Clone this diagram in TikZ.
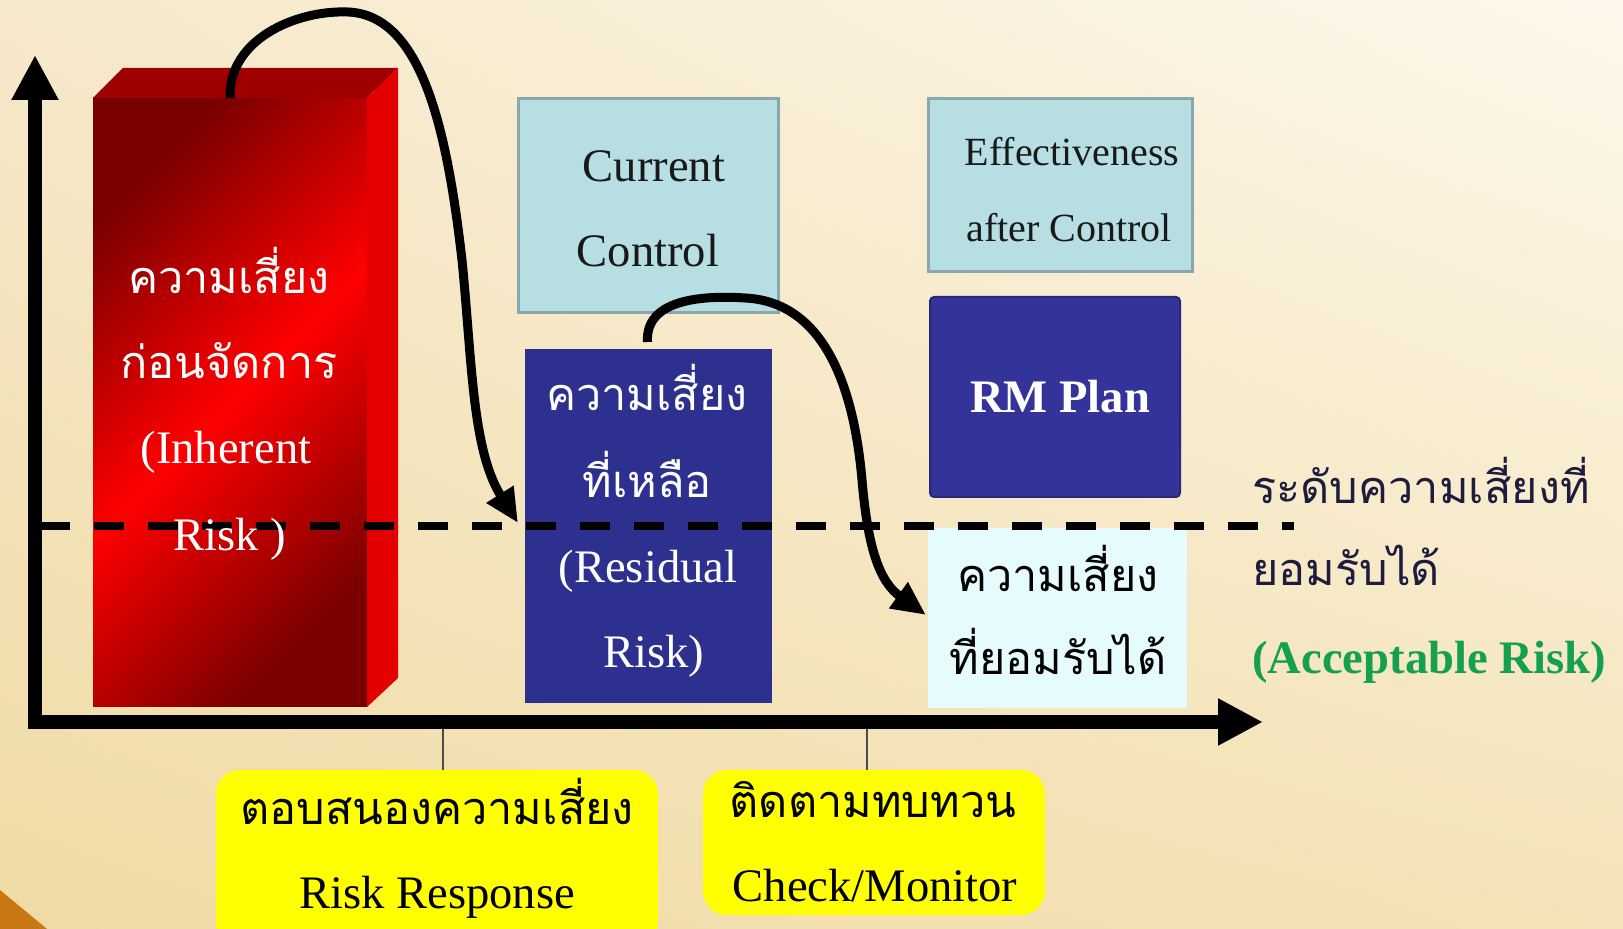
\documentclass[tikz,border=0pt]{standalone}
\usepackage{fontspec}
\setmainfont{Liberation Serif}
\newfontfamily\thaifont[Script=Thai]{Loma}
\usetikzlibrary{arrows.meta,shadings}
\definecolor{bgUL}{HTML}{F6E8CA}
\definecolor{bgUR}{HTML}{FDF8EC}
\definecolor{bgLL}{HTML}{F0DBA5}
\definecolor{bgLR}{HTML}{F5E3B8}
\definecolor{redDark}{HTML}{7A0000}
\definecolor{redMid}{HTML}{FF0000}
\definecolor{redTop}{HTML}{9E0000}
\definecolor{redSide}{HTML}{E40000}
\definecolor{teal}{HTML}{B7DEE2}
\definecolor{tealEdge}{HTML}{8AA8AB}
\definecolor{navy}{HTML}{2E3090}
\definecolor{rmBlue}{HTML}{333399}
\definecolor{rmEdge}{HTML}{28287A}
\definecolor{accFill}{HTML}{E5FBFC}
\definecolor{boxYellow}{HTML}{FFFF00}
\definecolor{okGreen}{HTML}{14A050}
\definecolor{labelInk}{HTML}{1C1C3C}
\definecolor{cornerOrange}{HTML}{C87812}
\tikzset{
  engtxt/.style={font=\fontsize{23.3}{28}\selectfont, anchor=base, inner sep=0},
  thaitxt/.style={font=\thaifont\fontsize{22.5}{27}\selectfont, anchor=base, inner sep=0},
  smalleng/.style={font=\fontsize{20}{24}\selectfont, anchor=base, inner sep=0},
  tealbox/.style={fill=teal, draw=tealEdge, line width=1.5pt, inner sep=0, outer sep=0},
  navybox/.style={fill=navy, inner sep=0, outer sep=0},
  yellowbox/.style={fill=boxYellow, rounded corners=12pt, inner sep=0, outer sep=0},
  axisline/.style={line width=7pt, line join=miter, {Triangle[length=22.5pt,width=22pt]}-{Triangle[length=22.5pt,width=22pt]}},
  flowcurve/.style={line width=4.5pt, -{Triangle[length=17pt,width=15pt]}},
  dashline/.style={line width=4pt, dash pattern=on 15pt off 12pt},
  tickline/.style={line width=0.8pt, draw=black!70}
}
\begin{document}
\begin{tikzpicture}[x=0.5pt,y=-0.5pt]
\useasboundingbox (0,0) rectangle (1623,929);
\clip (0,0) rectangle (1623,929);
% background
\shade[upper left=bgUL, upper right=bgUR, lower left=bgLL, lower right=bgLR] (0,0) rectangle (1623,929);
\fill[cornerOrange] (0,890) -- (47,929) -- (0,929) -- cycle;

% red 3D box
\node[shade, top color=redDark, bottom color=redDark, middle color=redMid, shading angle=45,
      minimum width=137pt, minimum height=304.5pt, inner sep=0, outer sep=0] (red) at (230,402.5) {};
\fill[redTop] (red.north west) -- ++(30,-30) -- ([shift={(31,-30)}]red.north east) -- (red.north east) -- cycle;
\fill[redSide] (red.north east) -- ++(31,-30) -- ([shift={(31,-29)}]red.south east) -- (red.south east) -- cycle;

% boxes
\node[tealbox, minimum width=130pt, minimum height=107pt] (cur) at (648,206) {};
\node[navybox, minimum width=123.5pt, minimum height=177pt] (res) at (648.5,526) {};
\node[tealbox, minimum width=132pt, minimum height=86.5pt] (eff) at (1060,185.5) {};
\node[fill=rmBlue, draw=rmEdge, line width=1pt, rounded corners=2pt, inner sep=0, outer sep=0,
      minimum width=125pt, minimum height=100pt] (rm) at (1055,397) {};
\node[fill=accFill, inner sep=0, outer sep=0, minimum width=129.5pt, minimum height=90pt] (acc) at (1057.5,618) {};
\node[yellowbox, minimum width=221pt, minimum height=87.5pt] (y1) at (437,857.5) {};
\node[yellowbox, minimum width=171pt, minimum height=72.5pt] (y2) at (874,842.5) {};

% dashed acceptable level
\coordinate (d1) at (40,526);
\coordinate (d2) at (1294,526);
\draw[dashline] (d1) -- (d2);

% axes
\coordinate (ytip) at (35,55);
\coordinate (orig) at (35,722);
\coordinate (xtip) at (1263,722);
\draw[axisline] (ytip) -- (orig) -- (xtip);

% ticks to the yellow boxes
\coordinate (t1) at (443,729);
\coordinate (t2) at (867,729);
\draw[tickline] (t1) -- (t1 |- y1.north);
\draw[tickline] (t2) -- (t2 |- y2.north);

% curved arrows
\draw[flowcurve] (red.north) .. controls (228,40) and (295,10) .. (348,12)
   .. controls (422,15) and (447,130) .. (462,260)
   .. controls (472,360) and (472,450) .. ([shift={(-7,-3)}]res.west);
\draw[flowcurve] ([shift={(-1,-7)}]res.north) .. controls (645,300) and (700,295) .. (745,298)
   .. controls (830,302) and (855,400) .. (862,480)
   .. controls (868,550) and (880,582) .. ([shift={(-2,-3)}]acc.west);

% texts: red box
\node[thaitxt, text=white] (r1) at (229,294) {ความเสี่ยง};
\node[thaitxt, text=white] (r2) at (229,379) {ก่อนจัดการ};
\node[engtxt, text=white] (r3) at (226,464) {(Inherent};
\node[engtxt, text=white] (r4) at (230,551) {Risk )};
% current control
\node[engtxt, text=black!90] (c1) at (654,182) {Current};
\node[engtxt, text=black!90] (c2) at (648,267) {Control};
% residual
\node[thaitxt, text=white] (s1) at (647,411) {ความเสี่ยง};
\node[thaitxt, text=white] (s2) at (647,498) {ที่เหลือ};
\node[engtxt, text=white] (s3) at (648,583) {(Residual};
\node[engtxt, text=white] (s4) at (654,668) {Risk)};
% effectiveness
\node[smalleng, text=black!90] (e1) at (1072,166) {Effectiveness};
\node[smalleng, text=black!90] (e2) at (1069,242) {after Control};
% rm plan
\node[engtxt, text=white, font=\bfseries\fontsize{23.3}{28}\selectfont] (p1) at (1060,413) {RM Plan};
% acceptable box
\node[thaitxt, text=black] (a1) at (1058,592) {ความเสี่ยง};
\node[thaitxt, text=black] (a2) at (1058,675) {ที่ยอมรับได้};
% right labels
\node[thaitxt, text=labelInk, anchor=base west] (l1) at (1252,504) {ระดับความเสี่ยงที่};
\node[thaitxt, text=labelInk, anchor=base west] (l2) at (1252,586) {ยอมรับได้};
\node[engtxt, text=okGreen, anchor=base west, font=\bfseries\fontsize{23.3}{28}\selectfont] (l3) at (1252,674) {(Acceptable Risk)};
% yellow boxes
\node[thaitxt, text=black] (b1) at (437,825) {ตอบสนองความเสี่ยง};
\node[engtxt, text=black] (b2) at (437,908) {Risk Response};
\node[thaitxt, text=black] (b3) at (873,818) {ติดตามทบทวน};
\node[engtxt, text=black] (b4) at (875,902) {Check/Monitor};
\end{tikzpicture}
\end{document}
